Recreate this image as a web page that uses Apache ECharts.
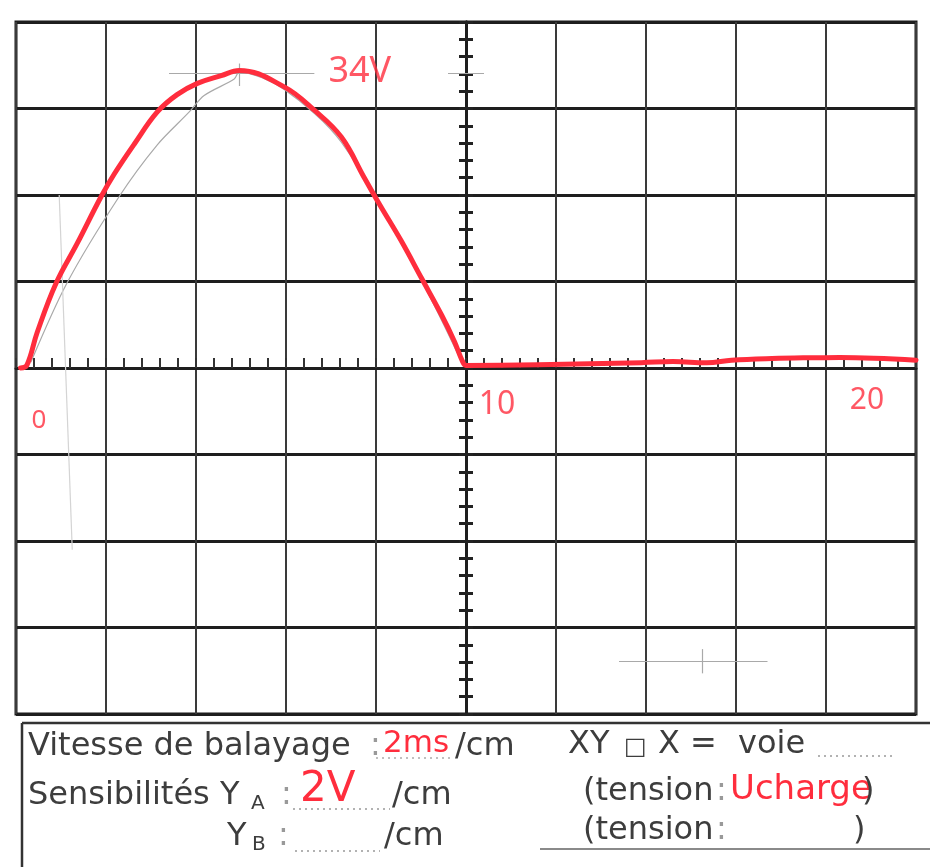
<!DOCTYPE html>
<html>
<head>
<meta charset="utf-8">
<title>Oscillogramme</title>
<script src="https://cdn.jsdelivr.net/npm/echarts@6/dist/echarts.min.js"></script>
<style>
    html, body { margin: 0; padding: 0; background: #fff; }
    #main { width: 930px; height: 867px; }
</style>
</head>
<body>
<div id="main"></div>
<script>
// trace rouge (t en ms, u en V, 2 ms/div, 10 V/div)
var traceT = [0.1, 0.24, 0.47, 0.89, 1.36, 1.89, 2.18, 2.63, 3.14, 3.58, 4.03, 4.56, 4.96, 5.96, 6.63, 7.23, 7.74, 8.08, 8.56, 9.01, 9.46, 9.74, 9.92, 10.0, 11.6, 13.9, 14.6, 15.35, 15.9, 16.8, 17.6, 18.3, 20.0];
var traceV = [0, 0.3, 4.1, 9.8, 14.4, 19.8, 22.4, 25.9, 29.6, 31.6, 32.9, 33.8, 34.4, 32.5, 29.8, 26.7, 22.0, 18.9, 14.7, 10.4, 6.1, 3.1, 0.8, 0.3, 0.37, 0.62, 0.74, 0.61, 0.9, 1.1, 1.18, 1.2, 0.9];

// trace au crayon (gris)
var pencilT = [0.33, 1.13, 2.29, 3.14, 3.85, 4.18, 4.85, 4.96, 5.96, 7.23, 9.01, 9.92];
var pencilV = [0.67, 9.8, 19.8, 25.8, 29.6, 31.5, 33.4, 34.2, 32.2, 26.1, 10.1, 0.5];

// reperes au crayon : [t1, v1, t2, v2]
var pencilMarks = [
    [3.4, 34.1, 6.63, 34.1],
    [9.6, 34.1, 10.4, 34.1],
    [4.96, 35.2, 4.96, 32.6],
    [13.4, -33.9, 16.7, -33.9],
    [15.24, -32.5, 15.24, -35.3]
];
var pencilFaint = [[0.96, 20, 1.25, -21]];

// annotations manuscrites
var noteText = ['34V', '0', '10', '20'];
var noteT = [7.64, 0.51, 10.69, 18.91];
var noteV = [34.3, -6.1, -4.3, -3.7];
var noteSize = [36, 26, 32, 30];

var red = '#ff2d3d';
var ink = '#3d3d3d';

var traceData = [];
for (var i = 0; i < traceT.length; i++) {
    traceData.push([traceT[i], traceV[i]]);
}
var pencilData = [];
for (var i = 0; i < pencilT.length; i++) {
    pencilData.push([pencilT[i], pencilV[i]]);
}
var markData = [];
for (var i = 0; i < pencilMarks.length; i++) {
    var m = pencilMarks[i];
    markData.push([{coord: [m[0], m[1]]}, {coord: [m[2], m[3]]}]);
}
for (var i = 0; i < pencilFaint.length; i++) {
    var m = pencilFaint[i];
    markData.push([{coord: [m[0], m[1]], lineStyle: {color: '#d4d4d4'}}, {coord: [m[2], m[3]]}]);
}
var noteData = [];
for (var i = 0; i < noteText.length; i++) {
    noteData.push({
        name: noteText[i],
        value: [noteT[i], noteV[i]],
        label: {fontSize: noteSize[i]}
    });
}

function txt(s, x, y, size, color) {
    return {
        type: 'text',
        x: x,
        y: y,
        z: 10,
        style: {
            text: s,
            fill: color || ink,
            font: (size || 32) + 'px "DejaVu Sans"',
            verticalAlign: 'middle'
        }
    };
}
function seg(x1, y1, x2, y2, color, w, dash) {
    return {
        type: 'line',
        z: 9,
        shape: {x1: x1, y1: y1, x2: x2, y2: y2},
        style: {stroke: color, lineWidth: w, lineDash: dash || null}
    };
}

var axisTickOpts = function (inside) {
    return {
        type: 'value',
        min: -40,
        max: 40,
        interval: 10,
        axisLine: {show: true, onZero: true, onZeroAxisIndex: 1, lineStyle: {color: '#1e1e1e', width: 3}},
        axisTick: {show: true, inside: inside, length: 7, lineStyle: {color: '#222', width: 3}},
        minorTick: {show: true, splitNumber: 5, length: 7, lineStyle: {color: '#222', width: 3}},
        axisLabel: {show: false},
        splitLine: {show: false}
    };
};

var chart = echarts.init(document.getElementById('main'));
chart.setOption({
    backgroundColor: '#fff',
    animation: false,
    grid: {
        left: 16,
        top: 22,
        width: 900,
        height: 692,
        show: true,
        backgroundColor: '#fff',
        borderColor: '#1a1a1a',
        borderWidth: 3,
        outerBoundsMode: 'none'
    },
    xAxis: [
        {
            type: 'value',
            min: 0,
            max: 20,
            interval: 2,
            position: 'bottom',
            axisLine: {show: true, onZero: true, lineStyle: {color: '#1e1e1e', width: 3}},
            axisTick: {show: true, inside: true, length: 10, lineStyle: {color: '#333', width: 2}},
            minorTick: {show: true, splitNumber: 5, length: 10, lineStyle: {color: '#333', width: 2}},
            axisLabel: {show: false},
            splitLine: {show: true, lineStyle: {color: '#3a3a3a', width: 2}}
        },
        {
            type: 'value',
            min: -10,
            max: 10,
            show: false
        }
    ],
    yAxis: [
        {
            type: 'value',
            min: -40,
            max: 40,
            interval: 10,
            axisLine: {show: false},
            axisTick: {show: false},
            axisLabel: {show: false},
            splitLine: {show: true, lineStyle: {color: '#1e1e1e', width: 3}}
        },
        axisTickOpts(true),
        axisTickOpts(false)
    ],
    series: [
        {
            name: 'crayon',
            type: 'line',
            data: pencilData,
            smooth: 0.3,
            symbol: 'none',
            z: 3,
            lineStyle: {color: '#a9a9a9', width: 1.2},
            markLine: {
                silent: true,
                symbol: 'none',
                label: {show: false},
                lineStyle: {color: '#a9a9a9', width: 1.2, type: 'solid'},
                data: markData
            }
        },
        {
            name: 'u',
            type: 'line',
            data: traceData,
            smooth: 0.4,
            symbol: 'none',
            z: 5,
            lineStyle: {color: red, width: 5, cap: 'round', join: 'round'}
        },
        {
            name: 'notes',
            type: 'scatter',
            data: noteData,
            symbolSize: 0,
            z: 6,
            label: {
                show: true,
                position: 'inside',
                formatter: '{b}',
                color: red,
                fontFamily: 'Noto Sans'
            }
        }
    ],
    graphic: [
        seg(22, 723, 930, 723, '#333', 2.5),
        seg(22, 723, 22, 867, '#333', 2.5),
        seg(540, 849, 930, 849, '#8a8a8a', 2),

        txt('Vitesse de balayage', 28, 747),
        txt(':', 370, 747, 32, '#999'),
        seg(376, 758, 452, 758, '#aaa', 1.5, [2, 4]),
        txt('2ms', 383, 744, 31, red),
        txt('/cm', 455, 747),
        txt('XY', 568, 745),
        txt('\u25a1', 624, 748, 24),
        txt('X', 658, 745),
        txt('=', 690, 745),
        txt('voie', 738, 745),
        seg(818, 756, 895, 756, '#999', 1.5, [2, 4]),

        txt('Sensibilités Y', 28, 796),
        txt('A', 251, 804, 20),
        txt(':', 281, 796, 32, '#999'),
        seg(293, 809, 390, 809, '#999', 1.5, [2, 4]),
        txt('2V', 300, 790, 42, red),
        txt('/cm', 392, 796),
        txt('(tension', 583, 792),
        txt(':', 716, 792, 32, '#999'),
        txt('Ucharge', 730, 790, 34, red),
        txt(')', 862, 792),

        txt('Y', 227, 837),
        txt('B', 252, 845, 20),
        txt(':', 278, 837, 32, '#999'),
        seg(295, 851, 380, 851, '#999', 1.5, [2, 4]),
        txt('/cm', 384, 837),
        txt('(tension', 583, 831),
        txt(':', 716, 831, 32, '#999'),
        txt(')', 853, 831)
    ]
});
</script>
</body>
</html>
